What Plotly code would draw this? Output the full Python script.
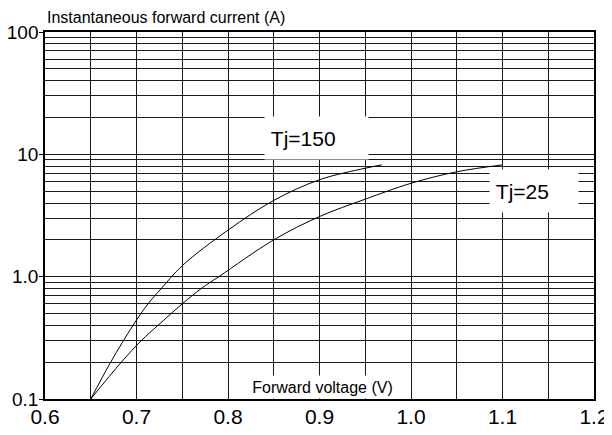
import plotly.graph_objects as go

# ---- data ----
v_150 = [0.65, 0.6718, 0.6962, 0.7126, 0.7271, 0.75, 0.80, 0.85, 0.90, 0.95, 0.968]
i_150 = [0.10, 0.20, 0.40, 0.60, 0.80, 1.23, 2.40, 4.20, 6.20, 7.70, 8.20]

v_25 = [0.65, 0.6834, 0.7052, 0.7235, 0.750, 0.7708, 0.790, 0.85, 0.90, 0.95, 1.00, 1.05, 1.10]
i_25 = [0.10, 0.20, 0.30, 0.40, 0.60, 0.80, 1.00, 2.00, 3.10, 4.30, 5.80, 7.20, 8.20]

x_ticks = [0.6, 0.7, 0.8, 0.9, 1.0, 1.1, 1.2]
x_tick_labels = ["0.6", "0.7", "0.8", "0.9", "1.0", "1.1", "1.2"]
x_minor = [0.65, 0.75, 0.85, 0.95, 1.05, 1.15]

y_ticks = [0.1, 1, 10, 100]
y_tick_labels = ["0.1", "1.0", "10", "100"]
y_decades = [0.1, 1, 10]
y_mults = [2, 3, 4, 5, 6, 7, 8, 9]
y_minor = [m * d for d in y_decades for m in y_mults]

FONT = "Liberation Sans, Arial, sans-serif"
GRID = "#1a1a1a"

fig = go.Figure()
fig.add_trace(go.Scatter(x=v_150, y=i_150, mode="lines", line=dict(color="black", width=1, shape="spline"),
                         showlegend=False, hoverinfo="skip"))
fig.add_trace(go.Scatter(x=v_25, y=i_25, mode="lines", line=dict(color="black", width=1, shape="spline"),
                         showlegend=False, hoverinfo="skip"))

fig.update_xaxes(range=[0.6, 1.2], tickvals=x_ticks, ticktext=x_tick_labels, automargin=False,
                 showgrid=True, gridcolor=GRID, gridwidth=1,
                 minor=dict(tickvals=x_minor, showgrid=True, gridcolor=GRID, gridwidth=1),
                 showline=True, linecolor="black", linewidth=1.5, mirror=True,
                 ticks="", ticklabelstandoff=-2, zeroline=False,
                 tickfont=dict(family=FONT, size=21, color="black"))
fig.update_yaxes(type="log", range=[-1, 2], tickvals=y_ticks, ticktext=y_tick_labels, automargin=False,
                 showgrid=True, gridcolor=GRID, gridwidth=1,
                 minor=dict(tickvals=y_minor, showgrid=True, gridcolor=GRID, gridwidth=1),
                 showline=True, linecolor="black", linewidth=1.5, mirror=True,
                 ticks="outside", ticklen=4, tickcolor="black", ticklabelstandoff=-3,
                 zeroline=False,
                 tickfont=dict(family=FONT, size=19, color="black"))

annos = [
    dict(text="Instantaneous forward current (A)", xref="paper", yref="paper", x=0.0, y=1.0395,
         xanchor="left", yanchor="middle", showarrow=False, font=dict(family=FONT, size=16, color="black")),
    dict(text="Forward voltage (V)", xref="x", yref="paper", x=0.9033, y=0.034,
         xanchor="center", yanchor="middle", showarrow=False, width=165, height=22, borderpad=0,
         bgcolor="white", font=dict(family=FONT, size=16, color="black")),
    dict(text="\u00a0Tj=150", xref="x", yref="paper", x=0.8967, y=0.711, align="left",
         xanchor="center", yanchor="middle", showarrow=False, width=103, height=42, borderpad=0,
         bgcolor="white", font=dict(family=FONT, size=21, color="black")),
    dict(text="\u00a0Tj=25", xref="x", yref="paper", x=1.1344, y=0.567, align="left",
         xanchor="center", yanchor="middle", showarrow=False, width=88, height=42, borderpad=0,
         bgcolor="white", font=dict(family=FONT, size=21, color="black")),
]

# page has an 8px body margin, so the figure is sized/offset to land the plot where the reference has it
fig.update_layout(width=604, height=427, margin=dict(l=37, r=18, t=24, b=36),
                  paper_bgcolor="white", plot_bgcolor="white", annotations=annos,
                  font=dict(family=FONT, color="black"))

fig.write_html("out.html")
